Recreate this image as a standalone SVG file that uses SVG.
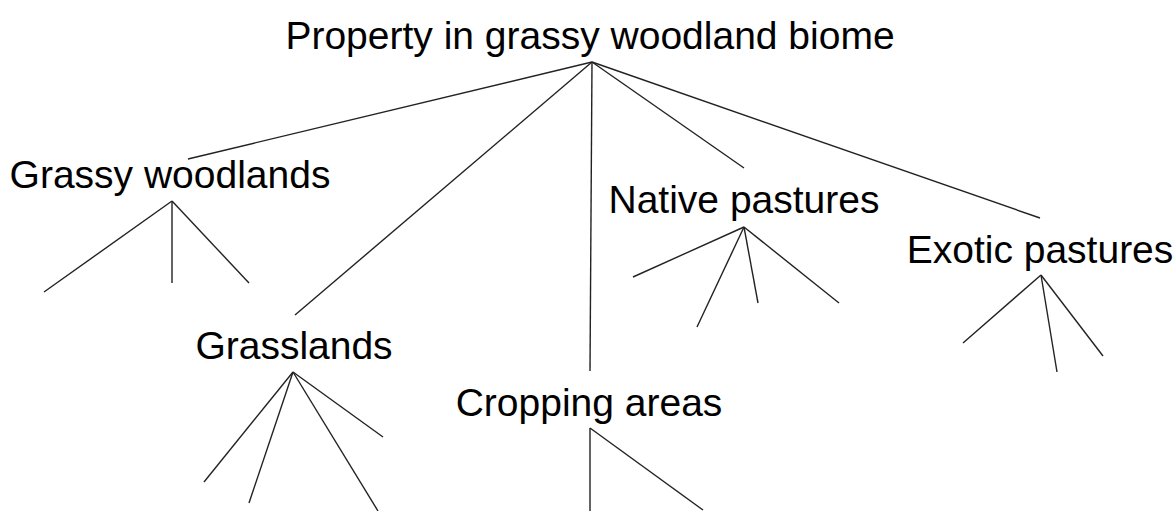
<svg xmlns="http://www.w3.org/2000/svg" width="1175" height="511" viewBox="0 0 1175 511">
<style>
.t{font-family:"Liberation Sans",Arial,sans-serif;font-size:39px;fill:#000;text-anchor:middle}
.c line{stroke:#222;stroke-width:1.4;fill:none}
</style>
<rect width="1175" height="511" fill="#fff"/>
<g id="root"><text class="t" x="590" y="49">Property in grassy woodland biome</text></g>
<g id="grassy-woodlands"><text class="t" x="170" y="188">Grassy woodlands</text></g>
<g id="grasslands"><text class="t" x="294" y="359">Grasslands</text></g>
<g id="cropping-areas"><text class="t" x="589" y="416">Cropping areas</text></g>
<g id="native-pastures"><text class="t" x="744" y="213">Native pastures</text></g>
<g id="exotic-pastures"><text class="t" x="1040" y="263">Exotic pastures</text></g>
<g class="c" id="connectors">
<line x1="592" y1="62" x2="188" y2="159"/>
<line x1="592" y1="62" x2="295" y2="315"/>
<line x1="592" y1="62" x2="590" y2="371"/>
<line x1="592" y1="62" x2="744" y2="168"/>
<line x1="592" y1="62" x2="1040" y2="218"/>
<line x1="172" y1="201" x2="44" y2="292"/>
<line x1="172" y1="201" x2="172" y2="283"/>
<line x1="172" y1="201" x2="249" y2="283"/>
<line x1="293" y1="372" x2="204" y2="482"/>
<line x1="293" y1="372" x2="249" y2="503"/>
<line x1="293" y1="372" x2="378" y2="511"/>
<line x1="293" y1="372" x2="383" y2="437"/>
<line x1="590" y1="428" x2="590" y2="511"/>
<line x1="590" y1="428" x2="703" y2="510"/>
<line x1="744" y1="227" x2="633" y2="277"/>
<line x1="744" y1="227" x2="697" y2="327"/>
<line x1="744" y1="227" x2="758" y2="303"/>
<line x1="744" y1="227" x2="839" y2="303"/>
<line x1="1041" y1="275" x2="963" y2="343"/>
<line x1="1041" y1="275" x2="1057" y2="372"/>
<line x1="1041" y1="275" x2="1103" y2="356"/>
</g>
</svg>
